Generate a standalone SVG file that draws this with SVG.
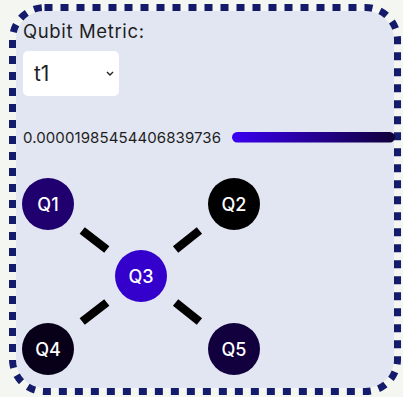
<svg xmlns="http://www.w3.org/2000/svg" width="403" height="397" viewBox="0 0 403 397">
<style>
.lbl{font-family:Inter,"Liberation Sans",sans-serif;fill:#1e1e1e}
.q{font-family:Inter,"Liberation Sans",sans-serif;font-size:18px;font-weight:500;fill:#fff;text-anchor:middle}
.conn{stroke:#000;stroke-width:8.5;stroke-linecap:butt}
</style>
<defs>
<linearGradient id="bar" x1="0" y1="0" x2="1" y2="0">
<stop offset="0" stop-color="#3a00f0"/>
<stop offset="1" stop-color="#100038"/>
</linearGradient>
</defs>
<rect x="0" y="0" width="403" height="397" fill="#f4f6f1"/>
<rect x="16" y="11" width="378" height="377" rx="28" fill="#e2e6f2"/>
<rect x="12.5" y="7.5" width="385" height="384" rx="32" fill="none" stroke="#141b6b" stroke-width="7" stroke-dasharray="8 8"/>
<text class="lbl" x="23" y="37.5" font-size="18.5" textLength="121">Qubit Metric:</text>
<g id="select">
<rect x="23" y="51" width="96" height="45" rx="5" fill="#fff"/>
<text class="lbl" x="34" y="81" font-size="21" fill="#111">t1</text>
<path d="M107 72 L110 75 L113 72" fill="none" stroke="#222" stroke-width="1.4"/>
</g>
<text class="lbl" x="23" y="143" font-size="15" textLength="198">0.00001985454406839736</text>
<rect x="232" y="132" width="163" height="10.5" rx="5.25" fill="url(#bar)"/>
<g id="connectors">
<line class="conn" x1="82.2" y1="230.5" x2="106.8" y2="249.5"/>
<line class="conn" x1="175.6" y1="249.5" x2="199.4" y2="230.5"/>
<line class="conn" x1="82.2" y1="321.5" x2="106.8" y2="302.5"/>
<line class="conn" x1="175.6" y1="302.5" x2="199.4" y2="321.5"/>
</g>
<g id="Q1"><circle cx="48" cy="204" r="26" fill="#1f006e"/><text class="q" x="48" y="210.5">Q1</text></g>
<g id="Q2"><circle cx="234" cy="204" r="26" fill="#000"/><text class="q" x="234" y="210.5">Q2</text></g>
<g id="Q3"><circle cx="141" cy="276" r="26" fill="#3300cc"/><text class="q" x="141" y="282.5">Q3</text></g>
<g id="Q4"><circle cx="48" cy="349" r="26" fill="#080018"/><text class="q" x="48" y="355.5">Q4</text></g>
<g id="Q5"><circle cx="234" cy="349" r="26" fill="#12003e"/><text class="q" x="234" y="355.5">Q5</text></g>
</svg>
